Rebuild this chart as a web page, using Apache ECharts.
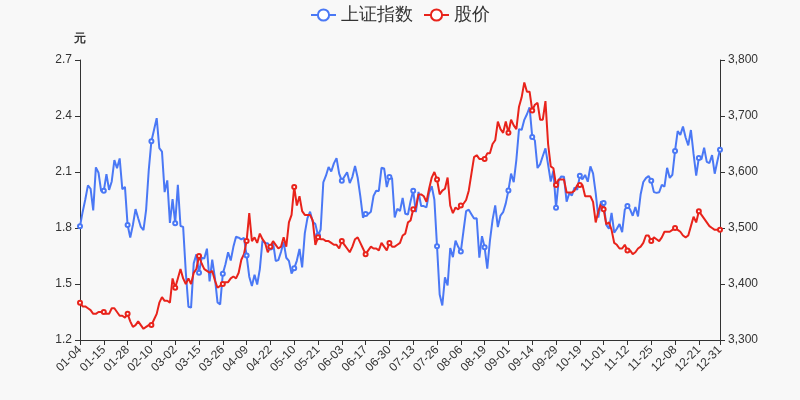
<!DOCTYPE html>
<html>
<head>
<meta charset="utf-8">
<script src="https://cdn.jsdelivr.net/npm/echarts@6/dist/echarts.min.js"></script>
<style>html,body{margin:0;padding:0;background:#f8f8f8;}#c{width:800px;height:400px;}</style>
</head>
<body>
<div id="c"></div>
<script>
const dates = [
"01-04","01-05","01-06","01-07","01-08","01-11","01-12","01-13","01-14","01-15","01-18","01-19","01-20","01-21","01-22","01-25","01-26","01-27","01-28","01-29",
"02-01","02-02","02-03","02-04","02-05","02-08","02-09","02-10","02-18","02-19","02-22","02-23","02-24","02-25","02-26",
"03-01","03-02","03-03","03-04","03-05","03-08","03-09","03-10","03-11","03-12","03-15","03-16","03-17","03-18","03-19","03-22","03-23","03-24","03-25","03-26","03-29","03-30","03-31",
"04-01","04-02","04-06","04-07","04-08","04-09","04-12","04-13","04-14","04-15","04-16","04-19","04-20","04-21","04-22","04-23","04-26","04-27","04-28","04-29","04-30",
"05-06","05-07","05-10","05-11","05-12","05-13","05-14","05-17","05-18","05-19","05-20","05-21","05-24","05-25","05-26","05-27","05-28","05-31",
"06-01","06-02","06-03","06-04","06-07","06-08","06-09","06-10","06-11","06-15","06-16","06-17","06-18","06-21","06-22","06-23","06-24","06-25","06-28","06-29","06-30",
"07-01","07-02","07-05","07-06","07-07","07-08","07-09","07-12","07-13","07-14","07-15","07-16","07-19","07-20","07-21","07-22","07-23","07-26","07-27","07-28","07-29","07-30",
"08-02","08-03","08-04","08-05","08-06","08-09","08-10","08-11","08-12","08-13","08-16","08-17","08-18","08-19","08-20","08-23","08-24","08-25","08-26","08-27","08-30","08-31",
"09-01","09-02","09-03","09-06","09-07","09-08","09-09","09-10","09-13","09-14","09-15","09-16","09-17","09-22","09-23","09-24","09-27","09-28","09-29","09-30",
"10-08","10-11","10-12","10-13","10-14","10-15","10-18","10-19","10-20","10-21","10-22","10-25","10-26","10-27","10-28","10-29",
"11-01","11-02","11-03","11-04","11-05","11-08","11-09","11-10","11-11","11-12","11-15","11-16","11-17","11-18","11-19","11-22","11-23","11-24","11-25","11-26","11-29","11-30",
"12-01","12-02","12-03","12-06","12-07","12-08","12-09","12-10","12-13","12-14","12-15","12-16","12-17","12-20","12-21","12-22","12-23","12-24","12-27","12-28","12-29","12-30","12-31"
];

const indexValues = [
3502.96,3528.68,3550.88,3576.20,3570.11,3531.50,3608.34,3598.65,3565.90,3566.38,3596.22,3568.00,3583.09,3621.26,3606.75,3624.24,3569.43,3573.34,3505.18,3483.07,
3505.31,3533.68,3517.31,3501.86,3496.33,3532.44,3603.49,3655.09,3675.36,3696.17,3642.44,3636.36,3564.08,3585.05,3509.08,
3551.40,3508.59,3576.90,3503.49,3501.99,3421.41,3359.29,3357.74,3436.83,3453.08,3419.95,3446.73,3445.55,3463.07,3404.66,3443.44,3411.51,3367.06,3363.59,3418.33,3435.30,3456.68,3441.91,
3466.33,3484.39,3482.88,3479.63,3482.55,3450.68,3412.95,3396.47,3416.45,3398.99,3426.62,3477.55,3472.94,3472.93,3465.11,3474.17,3441.17,3442.61,3457.07,3474.90,3446.86,
3441.28,3418.87,3427.99,3441.85,3462.75,3429.54,3490.38,3517.62,3529.01,3510.96,3506.94,3486.56,3497.28,3581.34,3593.36,3608.85,3600.78,3615.48,
3624.71,3597.14,3584.22,3591.84,3599.54,3580.11,3591.40,3610.86,3589.75,3556.56,3518.33,3525.10,3525.10,3529.18,3557.41,3566.65,3566.22,3607.56,3606.37,3573.18,3591.20,
3588.78,3518.76,3534.32,3530.26,3553.72,3525.50,3524.09,3547.84,3566.48,3528.50,3564.59,3539.30,3539.12,3536.79,3562.85,3574.73,3550.40,3467.44,3381.18,3361.59,3411.72,3397.36,
3464.29,3447.99,3477.22,3466.44,3458.23,3494.63,3529.93,3532.62,3524.74,3516.76,3517.34,3446.98,3485.29,3465.55,3427.33,3477.13,3514.47,3540.38,3501.66,3522.16,3528.15,3543.94,
3567.10,3597.04,3581.73,3621.86,3676.59,3675.19,3693.13,3703.11,3715.37,3662.60,3656.22,3607.09,3613.97,3628.49,3642.22,3613.07,3582.83,3602.22,3536.29,3585.00,
3592.17,3591.71,3546.94,3561.76,3558.28,3572.37,3568.14,3593.15,3587.00,3594.78,3582.60,3609.86,3597.64,3562.31,3518.42,3547.34,
3544.48,3505.63,3498.54,3526.87,3491.57,3498.63,3507.00,3492.46,3532.79,3539.10,3533.30,3521.79,3537.37,3520.71,3560.37,3582.08,3589.09,3592.70,3584.18,3564.09,3562.70,3563.89,
3576.89,3573.84,3607.43,3589.31,3595.09,3637.57,3673.04,3666.35,3681.08,3661.53,3647.63,3675.02,3632.36,3593.60,3625.13,3622.62,3643.34,3618.05,3615.97,3630.11,3597.00,3619.19,3639.78
];

const priceValues = [
1.40,1.38,1.38,1.37,1.36,1.34,1.34,1.35,1.35,1.35,1.34,1.34,1.37,1.37,1.35,1.33,1.33,1.32,1.34,1.30,
1.27,1.28,1.30,1.28,1.26,1.27,1.28,1.28,1.31,1.34,1.40,1.43,1.41,1.41,1.40,
1.53,1.48,1.53,1.58,1.53,1.50,1.53,1.50,1.56,1.58,1.65,1.61,1.58,1.57,1.56,1.57,1.52,1.48,1.49,1.50,1.51,1.51,1.53,
1.54,1.53,1.56,1.63,1.66,1.73,1.88,1.73,1.75,1.72,1.77,1.74,1.72,1.67,1.70,1.73,1.71,1.69,1.70,1.75,1.70,
1.83,1.87,2.02,1.92,1.97,1.89,1.87,1.87,1.87,1.84,1.71,1.75,1.74,1.74,1.73,1.73,1.72,1.71,
1.71,1.69,1.73,1.71,1.69,1.67,1.70,1.74,1.75,1.72,1.69,1.66,1.68,1.70,1.69,1.69,1.68,1.72,1.70,1.68,1.72,
1.70,1.70,1.71,1.72,1.76,1.77,1.83,1.84,1.90,1.91,1.98,1.98,1.97,1.94,2.01,2.07,2.10,2.06,1.98,2.00,2.01,2.07,
1.92,1.88,1.91,1.90,1.92,1.93,1.95,2.00,2.09,2.18,2.19,2.17,2.17,2.17,2.20,2.20,2.25,2.27,2.37,2.33,2.31,2.37,
2.31,2.38,2.35,2.33,2.45,2.50,2.58,2.53,2.53,2.43,2.46,2.47,2.38,2.38,2.48,2.25,2.13,2.12,2.03,2.06,
2.06,2.06,1.99,1.99,1.99,2.00,2.03,2.03,2.03,1.97,1.97,1.97,1.94,1.83,1.89,1.93,
1.90,1.82,1.83,1.79,1.72,1.71,1.69,1.69,1.71,1.68,1.68,1.66,1.67,1.69,1.70,1.72,1.76,1.76,1.73,1.75,1.74,1.73,
1.75,1.78,1.78,1.78,1.79,1.80,1.79,1.78,1.76,1.75,1.76,1.81,1.86,1.83,1.89,1.87,1.85,1.83,1.81,1.80,1.79,1.79,1.79
];

const seriesNames = ["上证指数", "股价"];
const leftTicks = { min: 1.2, max: 2.7, interval: 0.3 };
const rightTicks = { min: 3300, max: 3800, interval: 100 };

const chart = echarts.init(document.getElementById('c'), null, { renderer: 'canvas' });
const axisCommon = {
  axisLine: { show: true, lineStyle: { color: '#333' } },
  axisTick: { show: true, lineStyle: { color: '#333' } },
  axisLabel: { color: '#333', fontSize: 12 },
  splitLine: { show: false }
};
chart.setOption({
  backgroundColor: '#f8f8f8',
  animation: false,
  legend: {
    top: 1,
    left: 'center',
    itemWidth: 25,
    itemHeight: 14,
    itemGap: 10,
    textStyle: { fontSize: 18, color: '#333' },
    data: seriesNames
  },
  grid: { left: 80, right: 80, top: 60, bottom: 60, containLabel: false },
  xAxis: {
    type: 'category',
    data: dates,
    boundaryGap: false,
    axisLine: { show: true, lineStyle: { color: '#333' } },
    axisTick: { show: true, lineStyle: { color: '#333' } },
    axisLabel: { color: '#333', fontSize: 12, rotate: 45, interval: 8, showMaxLabel: true },
    splitLine: { show: false }
  },
  yAxis: [
    Object.assign({
      type: 'value',
      name: '元',
      nameGap: 15,
      nameTextStyle: { color: '#333', fontSize: 12, fontWeight: 'bold' },
      min: leftTicks.min, max: leftTicks.max, interval: leftTicks.interval,
      position: 'left'
    }, axisCommon, { axisLabel: { color: '#333', fontSize: 12, formatter: v => v.toFixed(1) } }),
    Object.assign({
      type: 'value',
      min: rightTicks.min, max: rightTicks.max, interval: rightTicks.interval,
      position: 'right'
    }, axisCommon)
  ],
  series: [
    {
      name: seriesNames[0],
      type: 'line',
      yAxisIndex: 1,
      data: indexValues,
      symbol: 'emptyCircle',
      symbolSize: 4,
      itemStyle: { color: '#4a78f5', borderWidth: 1 },
      lineStyle: { color: '#4a78f5', width: 2 }
    },
    {
      name: seriesNames[1],
      type: 'line',
      yAxisIndex: 0,
      data: priceValues,
      symbol: 'emptyCircle',
      symbolSize: 4,
      itemStyle: { color: '#e8231b', borderWidth: 1 },
      lineStyle: { color: '#e8231b', width: 2 }
    }
  ]
});
</script>
</body>
</html>
